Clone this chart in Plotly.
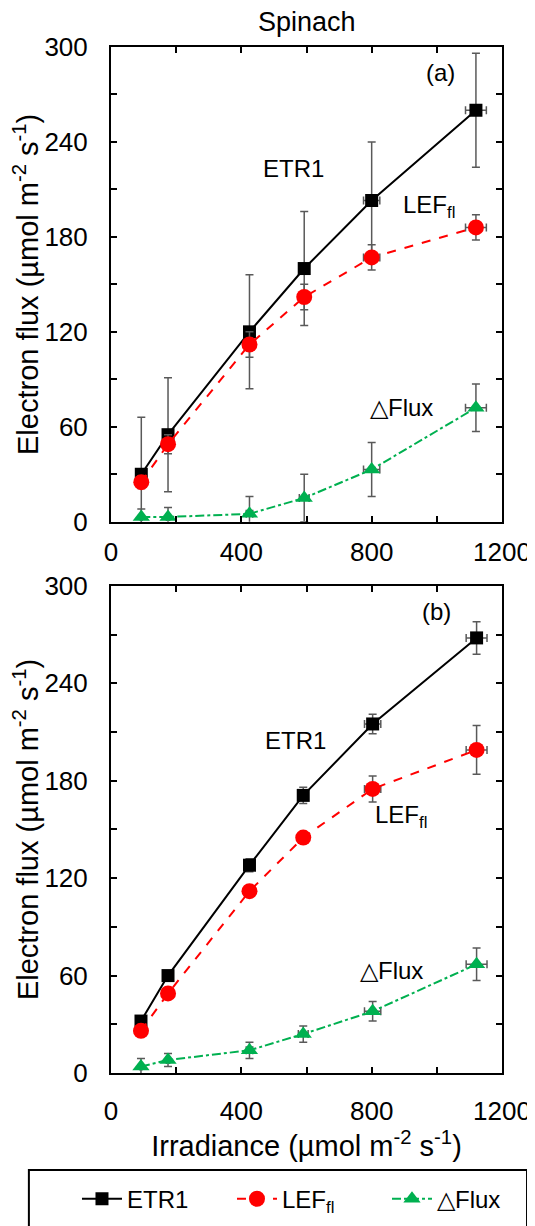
import plotly.graph_objects as go

# ---- data ----
irr_a = [93, 175, 425, 593, 800, 1120]
irr_a_err = [3, 5, 10, 15, 25, 32]
etr1_a = [30, 55, 120, 160, 203, 260]
etr1_a_err = [36, 36, 36, 36, 37, 36]
lef_a = [25, 49, 112, 142, 167, 186]
lef_a_err = [4, 6, 8, 8, 8, 8]
dflux_a = [3, 3, 5, 15, 33, 72]
dflux_a_err = [5, 6, 11, 15, 17, 15]

irr_b = [92, 175, 425, 590, 803, 1122]
irr_b_err = [3, 5, 10, 15, 25, 32]
etr1_b = [32, 60, 128, 171, 215, 268]
etr1_b_err = [3, 3, 4, 5, 6, 10]
lef_b = [26, 49, 112, 145, 175, 199]
lef_b_err = [3, 3, 3, 3, 8, 15]
dflux_b = [4, 8, 14, 24, 38, 67]
dflux_b_err = [5, 4, 5, 5, 6, 10]

series_names = ["ETR1", "LEF<sub>fl</sub>", "△Flux"]
x_tickvals = [0, 200, 400, 600, 800, 1000, 1200]
x_ticktext = ["0", "", "400", "", "800", "", "1200"]
y_tickvals = [0, 30, 60, 90, 120, 150, 180, 210, 240, 270, 300]
y_ticktext = ["0", "", "60", "", "120", "", "180", "", "240", "", "300"]

FONT = "Liberation Sans, Arial, sans-serif"
ERRC = "#595959"
GREEN = "#00B050"
TICKSIZE = 26
TITLESIZE = 29

styles = [
    dict(color="black", dash="solid", symbol="square", msize=13),
    dict(color="#FF0000", dash="dash", symbol="circle", msize=16),
    dict(color=GREEN, dash="dashdot", symbol="triangle-up", msize=15),
]

fig = go.Figure()

panels = [
    ("x", "y", irr_a, irr_a_err, [etr1_a, lef_a, dflux_a], [etr1_a_err, lef_a_err, dflux_a_err], True),
    ("x2", "y2", irr_b, irr_b_err, [etr1_b, lef_b, dflux_b], [etr1_b_err, lef_b_err, dflux_b_err], False),
]
for xa, ya, xs, xe, ys, yes, show in panels:
    for i in range(3):
        st = styles[i]
        fig.add_trace(go.Scatter(
            x=xs, y=ys[i], xaxis=xa, yaxis=ya, mode="lines+markers",
            name=series_names[i], showlegend=show, cliponaxis=True,
            line=dict(color=st["color"], dash=st["dash"], width=2),
            marker=dict(symbol=st["symbol"], size=st["msize"], color=st["color"]),
            error_y=dict(type="data", array=yes[i], color=ERRC, thickness=1.5, width=4),
            error_x=dict(type="data", array=xe, color=ERRC, thickness=1.5, width=4),
        ))

axis_common = dict(
    showline=True, linecolor="black", linewidth=2, mirror="allticks",
    ticks="inside", ticklen=6, tickwidth=1.5, tickcolor="black",
    showgrid=False, zeroline=False, ticklabeloverflow="allow",
    tickfont=dict(family=FONT, size=TICKSIZE, color="black"),
)
ytitle = "Electron flux (µmol m<sup>-2</sup> s<sup>-1</sup>)"

fig.update_layout(
    width=527, height=1218,
    margin=dict(l=103, r=33, t=39, b=153, autoexpand=False),
    paper_bgcolor="white", plot_bgcolor="white",
    font=dict(family=FONT, size=24, color="black"),
    xaxis=dict(domain=[0, 1], anchor="y", range=[0, 1200], tickvals=x_tickvals, ticktext=x_ticktext,
               ticklabelstandoff=6, **axis_common),
    yaxis=dict(domain=[0.5373, 1], anchor="x", range=[0, 300], tickvals=y_tickvals, ticktext=y_ticktext,
               ticklabelstandoff=16,
               title=dict(text=ytitle, font=dict(size=TITLESIZE), standoff=4),
               **axis_common),
    xaxis2=dict(domain=[0, 1], anchor="y2", range=[0, 1200], tickvals=x_tickvals, ticktext=x_ticktext,
                ticklabelstandoff=14,
                title=dict(text="Irradiance (µmol m<sup>-2</sup> s<sup>-1</sup>)", font=dict(size=TITLESIZE), standoff=5),
                **axis_common),
    yaxis2=dict(domain=[0, 0.4747], anchor="x2", range=[0, 300], tickvals=y_tickvals, ticktext=y_ticktext,
                ticklabelstandoff=16,
                title=dict(text=ytitle, font=dict(size=TITLESIZE), standoff=4),
                **axis_common),
    showlegend=True,
    legend=dict(orientation="h", x=-0.087, xanchor="left", y=-0.101, yanchor="top",
                font=dict(family=FONT, size=24, color="black"),
                bgcolor="rgba(0,0,0,0)", borderwidth=0,
                entrywidth=100, entrywidthmode="pixels", itemwidth=40),
)

fig.add_shape(type="rect", xref="paper", yref="paper", x0=-0.21, x1=1.064, y0=-0.0945, y1=-0.2,
              line=dict(color="black", width=2), fillcolor="rgba(0,0,0,0)", layer="above")

fig.add_annotation(text="Spinach", xref="paper", yref="paper", x=0.5, y=1, yshift=25,
                   showarrow=False, font=dict(size=27), yanchor="middle")

ann = [
    ("x", "y", 1010, 284, "(a)"), ("x", "y", 560, 223, "ETR1"), ("x", "y", 975, 199, "LEF<sub>fl</sub>"),
    ("x", "y", 893, 72, "△Flux"),
    ("x2", "y2", 1000, 284, "(b)"), ("x2", "y2", 567, 205, "ETR1"), ("x2", "y2", 891, 158, "LEF<sub>fl</sub>"),
    ("x2", "y2", 861, 63, "△Flux"),
]
for xr, yr, xv, yv, t in ann:
    fig.add_annotation(text=t, xref=xr, yref=yr, x=xv, y=yv, showarrow=False, font=dict(size=24))

fig.write_html("out.html")
